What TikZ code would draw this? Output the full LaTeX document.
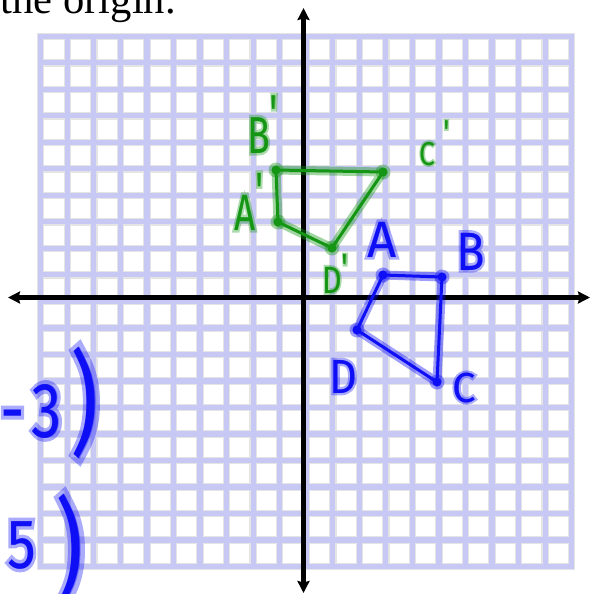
\documentclass[tikz,border=0pt]{standalone}
\usepackage{fontspec}
\setmainfont{Liberation Serif}
\newfontfamily\handfont{Fira Sans}
\newfontfamily\halofont[FakeBold=10]{Fira Sans}
\usetikzlibrary{arrows.meta}
\definecolor{gridlav}{RGB}{200,200,245}
\definecolor{gridgray}{RGB}{228,228,228}
\definecolor{pengreen}{RGB}{20,150,20}
\definecolor{penblue}{RGB}{15,15,245}
\newcommand\hpr[1]{\raisebox{#1}{'}}
\newcommand\pen[6]{%
  \node[lab,text=#2,text opacity=.35,font=\halofont\fontsize{#4}{#4}\selectfont] (#1h) at (#3) {\scalebox{#5}[1]{#6}};%
  \node[lab,text=#2,font=\handfont\fontsize{#4}{#4}\selectfont] (#1) at (#3) {\scalebox{#5}[1]{#6}};}
\newcommand\paren[4]{%
  \node[inner sep=0pt,text=#2,text opacity=.35,font=\halofont\fontsize{58}{58}\selectfont] (#1h) at (#3) {\scalebox{#4}[1.95]{)}};%
  \node[inner sep=0pt,text=#2,font=\handfont\fontsize{58}{58}\selectfont] (#1) at (#3) {\scalebox{#4}[1.95]{)}};}
\begin{document}
\begin{tikzpicture}[x=1pt,y=-1pt,
  gridunder/.style={draw=gridgray,line width=7.5pt,line cap=rect},
  gridline/.style={draw=gridlav,line width=5.2pt,line cap=rect},
  axis/.style={draw=black,line width=4.5pt,{Stealth[length=12pt,width=12pt,inset=1.5pt]}-{Stealth[length=12pt,width=12pt,inset=1.5pt]}},
  pencore/.style={line width=3pt,line cap=round,line join=round},
  penhalo/.style={line width=9pt,line cap=round,line join=round,draw opacity=.4},
  lab/.style={inner sep=0pt,anchor=base west}]
\useasboundingbox (0,0) rectangle (590,594);
% grid
\foreach \i in {0,...,20}{
  \draw[gridunder] ({40.7+26.55*\i},36.3) -- ({40.7+26.55*\i},566.5);
  \draw[gridunder] (40.7,{36.3+26.51*\i}) -- (571.7,{36.3+26.51*\i});}
\foreach \i in {0,...,20}{
  \draw[gridline] ({40.7+26.55*\i},36.3) -- ({40.7+26.55*\i},566.5);
  \draw[gridline] (40.7,{36.3+26.51*\i}) -- (571.7,{36.3+26.51*\i});}
% title
\node[inner sep=0pt,anchor=base west,font=\fontsize{42.6}{42.6}\selectfont] (title) at (0.5,13.5) {the origin.};
% axes
\coordinate (xl) at (8,297.5);
\coordinate (xr) at (590,297.5);
\coordinate (yt) at (303.5,8);
\coordinate (yb) at (303.5,593);
\draw[axis] (xl) -- (xr);
\draw[axis] (yt) -- (yb);
% green image
\coordinate (Ap) at (278,222);
\coordinate (Bp) at (276,170);
\coordinate (Cp) at (383,172);
\coordinate (Dp) at (332,248);
\draw[penhalo,pengreen] (Ap) -- (Bp) -- (Cp) -- (Dp) -- cycle;
\draw[pencore,pengreen] (Ap) -- (Bp) -- (Cp) -- (Dp) -- cycle;
\foreach \p in {Ap,Bp,Cp,Dp}{
  \fill[pengreen,opacity=.4] (\p) circle (7.5);
  \fill[pengreen] (\p) circle (4.5);}
% blue original
\coordinate (A) at (383,275);
\coordinate (B) at (442,277);
\coordinate (C) at (437,382);
\coordinate (D) at (357,330);
\draw[penhalo,penblue] (A) -- (B) -- (C) -- (D) -- cycle;
\draw[pencore,penblue] (A) -- (B) -- (C) -- (D) -- cycle;
\foreach \p in {A,B,C,D}{
  \fill[penblue,opacity=.4] (\p) circle (7.5);
  \fill[penblue] (\p) circle (4.5);}
% labels
\pen{lBp}{pengreen}{247,153}{52}{0.72}{B\hpr{0.42em}}
\pen{lAp}{pengreen}{234,230}{51}{0.72}{A\hpr{0.43em}}
\pen{lCp}{pengreen}{419,165}{33}{0.85}{C\hspace{0.3em}\hpr{0.66em}}
\pen{lDp}{pengreen}{322,293}{38}{0.8}{D\hpr{0.32em}}
\pen{lA}{penblue}{367,257}{51}{1.0}{A}
\pen{lB}{penblue}{456,270}{54}{0.87}{B}
\pen{lC}{penblue}{452,402}{42}{1.0}{C}
\pen{lD}{penblue}{329,393}{48}{0.9}{D}
\pen{lm3}{penblue}{0,437}{78}{0.78}{-\hspace{0.12em}3}
\pen{lf}{penblue}{7,568}{70}{0.82}{5}
\paren{rpa}{penblue}{85,403}{1.5}
\paren{rpb}{penblue}{70,550}{1.5}
\end{tikzpicture}
\end{document}
